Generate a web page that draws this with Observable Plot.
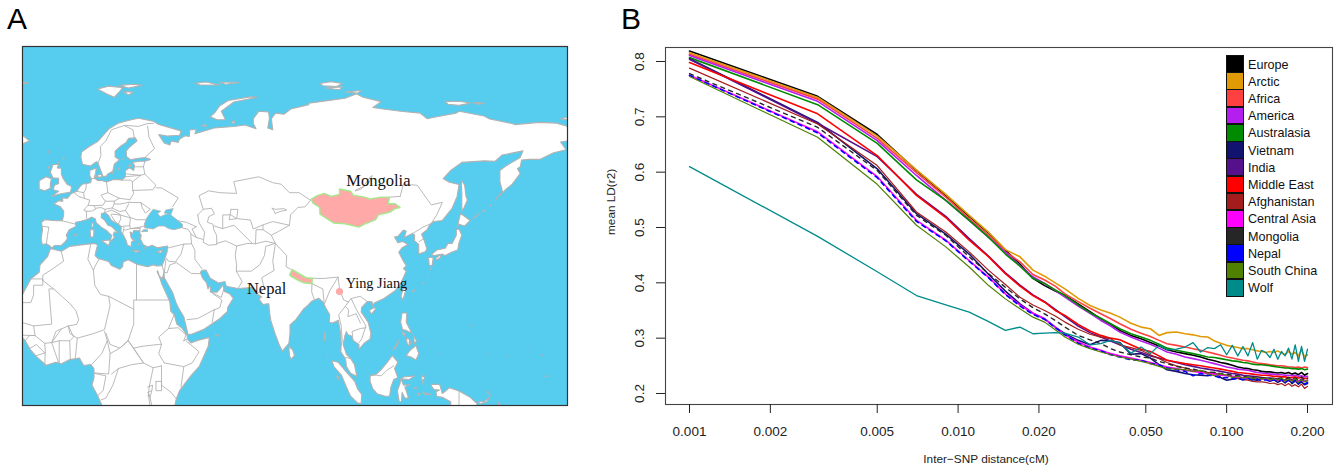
<!DOCTYPE html>
<html>
<head>
<meta charset="utf-8">
<script src="https://cdn.jsdelivr.net/npm/d3@7"></script>
<script src="https://cdn.jsdelivr.net/npm/@observablehq/plot@0.6"></script>
<style>
html,body{margin:0;padding:0;background:#fff;width:1344px;height:472px;overflow:hidden}
#page{position:relative;width:1344px;height:472px;font-family:"Liberation Sans",Arial,sans-serif}
#page>svg,#map,#ld{position:absolute;top:0}
#map{left:0}#ld{left:600px}
.tag{position:absolute;font-size:30px;line-height:30px;color:#000}
#legend{position:absolute;left:1226px;top:55px;font-size:12.6px;color:#111}
#legend div{height:17.23px;line-height:17.23px;white-space:nowrap}
#legend i{display:inline-block;box-sizing:border-box;width:18px;height:17.73px;border:1px solid #111;vertical-align:top;margin-right:4px;margin-bottom:-.5px}
#legend span{position:relative;top:1.5px}
</style>
</head>
<body>
<div id="page">
<div id="map"></div>
<div id="ld"></div>
<div class="tag" style="left:7px;top:4px">A</div>
<div class="tag" style="left:621px;top:4px">B</div>
<div id="legend"></div>
</div>
<script>
// ---------- Panel B data ----------
const distance=[.001,.003,.005,.007,.009,.011,.013,.015,.017,.019,.021,.023,.025,.028,.031,.034,.037,.04,.044,.048,.052,.056,.06,.065,.07,.075,.08,.085,.09,.095,.1,.105,.11,.115,.12,.125,.13,.135,.14,.145,.15,.155,.16,.165,.17,.175,.18,.185,.19,.195,.2];
const europe=[.819,.737,.668,.603,.558,.520,.490,.459,.434,.408,.395,.385,.377,.362,.348,.335,.325,.314,.305,.299,.292,.286,.279,.275,.272,.269,.266,.262,.259,.256,.254,.251,.248,.246,.245,.243,.242,.240,.239,.239,.238,.237,.238,.236,.238,.235,.237,.234,.238,.233,.236];
const arctic=[.816,.735,.665,.604,.560,.522,.491,.460,.447,.423,.412,.400,.389,.372,.359,.351,.345,.338,.327,.320,.317,.305,.310,.311,.308,.306,.303,.302,.295,.291,.287,.285,.283,.281,.281,.279,.277,.276,.274,.276,.274,.277,.273,.270,.276,.271,.274,.268,.279,.266,.270];
const africa=[.813,.732,.661,.599,.555,.516,.486,.456,.438,.415,.405,.394,.380,.366,.354,.344,.335,.326,.316,.309,.303,.296,.290,.287,.284,.281,.278,.275,.272,.269,.266,.264,.262,.260,.259,.257,.255,.254,.253,.252,.251,.250,.250,.249,.248,.248,.247,.248,.246,.248,.247];
const america=[.811,.728,.657,.594,.549,.513,.482,.455,.431,.411,.399,.386,.374,.358,.345,.332,.322,.311,.302,.295,.289,.282,.275,.271,.266,.263,.260,.257,.254,.251,.248,.246,.244,.243,.242,.240,.238,.237,.236,.235,.235,.234,.234,.233,.233,.232,.233,.231,.232,.230,.231];
const australasia=[.807,.722,.652,.586,.549,.513,.482,.452,.430,.408,.399,.387,.377,.360,.346,.336,.326,.317,.308,.302,.296,.289,.282,.278,.275,.272,.269,.266,.265,.263,.261,.259,.258,.256,.255,.253,.252,.252,.251,.250,.249,.248,.247,.246,.246,.245,.245,.244,.245,.243,.244];
const vietnam=[.805,.690,.606,.525,.488,.452,.415,.385,.362,.345,.335,.320,.308,.296,.288,.296,.295,.292,.271,.272,.264,.252,.243,.240,.236,.234,.233,.232,.238,.229,.224,.226,.228,.225,.227,.225,.224,.226,.227,.222,.225,.220,.224,.219,.226,.218,.223,.217,.221,.216,.218];
const india=[.804,.6885,.628,.560,.520,.480,.448,.418,.396,.378,.366,.352,.339,.322,.310,.302,.295,.288,.280,.274,.268,.264,.260,.256,.252,.249,.246,.244,.242,.240,.238,.236,.235,.233,.232,.231,.230,.229,.228,.228,.227,.226,.226,.224,.227,.225,.226,.222,.226,.222,.224];
const middleEast=[.798,.7055,.630,.558,.518,.477,.447,.4165,.394,.377,.365,.350,.341,.325,.313,.305,.300,.297,.288,.280,.276,.268,.260,.257,.254,.252,.250,.248,.246,.244,.242,.240,.238,.237,.236,.235,.234,.233,.233,.232,.231,.231,.230,.230,.229,.229,.230,.228,.229,.227,.227];
const afghanistan=[.788,.687,.612,.528,.492,.456,.4225,.397,.374,.360,.350,.340,.329,.316,.307,.302,.299,.288,.283,.278,.270,.263,.256,.250,.246,.242,.240,.238,.236,.235,.233,.230,.227,.225,.224,.222,.221,.221,.220,.218,.219,.216,.218,.214,.218,.213,.216,.212,.217,.209,.213];
const centralAsia=[.775,.673,.592,.513,.477,.440,.410,.380,.360,.345,.335,.320,.306,.293,.284,.278,.272,.268,.264,.260,.256,.252,.248,.245,.242,.240,.238,.236,.235,.233,.232,.231,.230,.229,.228,.228,.227,.226,.226,.225,.225,.224,.224,.223,.224,.223,.224,.222,.223,.222,.223];
const mongoliaLD=[.778,.681,.603,.522,.486,.447,.4165,.392,.371,.355,.344,.332,.320,.305,.297,.290,.281,.275,.270,.266,.264,.258,.254,.249,.246,.244,.241,.239,.238,.236,.235,.233,.232,.231,.230,.229,.229,.228,.228,.227,.227,.227,.228,.226,.229,.226,.228,.225,.230,.224,.228];
const nepalLD=[.775,.671,.590,.511,.476,.439,.409,.379,.358,.343,.334,.319,.306,.291,.282,.277,.270,.266,.261,.260,.254,.252,.246,.243,.240,.232,.236,.233,.232,.228,.229,.226,.227,.225,.228,.224,.226,.223,.225,.222,.225,.221,.226,.220,.224,.219,.225,.218,.223,.217,.220];
const southChina=[.773,.663,.578,.504,.465,.4285,.395,.371,.353,.338,.329,.315,.302,.289,.281,.275,.270,.266,.262,.258,.254,.249,.245,.244,.243,.240,.242,.236,.232,.236,.233,.229,.231,.228,.230,.227,.229,.226,.228,.225,.227,.224,.228,.223,.226,.222,.227,.220,.225,.221,.224];
const wolf=[.610,.484,.420,.377,.360,.347,.330,.314,.320,.308,.309,.310,.309,.302,.288,.290,.296,.291,.273,.284,.272,.287,.279,.280,.284,.292,.275,.283,.281,.288,.270,.287,.268,.285,.268,.292,.262,.278,.274,.265,.280,.262,.276,.268,.282,.262,.288,.258,.285,.258,.280];

const groups=["Europe","Arctic","Africa","America","Australasia","Vietnam","India","Middle East","Afghanistan","Central Asia","Mongolia","Nepal","South China","Wolf"];
const groupValues=[europe,arctic,africa,america,australasia,vietnam,india,middleEast,afghanistan,centralAsia,mongoliaLD,nepalLD,southChina,wolf];
const lineColors=["#000000","#E09A05","#FF4040","#B41EEF","#008B00","#12126F","#55118B","#FF0000","#A51C1C","#FF00FF","#262626","#0000FF","#4F8000","#008B8B"];
const legendColors=lineColors;
const xTicks=[.001,.002,.005,.01,.02,.05,.1,.2];
const yTicks=[.2,.3,.4,.5,.6,.7,.8];

// ---------- Panel A data: lon / lat ----------
const mainland=[[13,-8],[12.3,-6],[11,-3.8],[9,-1],[9.7,1],[9.7,3.5],[8.5,4.6],[6,4.3],[4.5,6.3],[1,5.9],[-2,4.8],[-4,5.2],[-7.5,4.4],[-11,6.7],[-13.2,8.6],[-15,11],[-16.7,12.4],[-17.5,14.7],[-16.5,16],[-16.3,19],[-17,21],[-16,23.5],[-13,27.7],[-10,29.5],[-9.7,31.5],[-7,33.7],[-6,35.8],[-5.3,35.8],[-2,35.2],[1,36.5],[5,36.9],[10,37.3],[11,36.9],[10.5,35.5],[10.1,34],[11.2,33.2],[15,32.4],[16,31.3],[19,30.3],[20,31],[20.2,32.3],[22,32.9],[25,31.7],[29,31],[31,31.5],[32.3,31.2],[34.2,31.3],[35,32.8],[36,35],[36.2,36.6],[34,36.3],[32.5,36.1],[30.6,36.8],[29,36.3],[27.4,37],[26.4,38.5],[26.7,39.5],[26.2,40],[26.2,40.7],[24,40.8],[23.8,40],[22.7,40.4],[23,39],[24,38],[23.2,37.7],[23.1,36.5],[22.4,36.6],[21.7,36.9],[21.3,38],[20.3,39.5],[19.4,40.5],[19.5,41.8],[18.5,42.5],[16,43.5],[14.8,45],[13.6,45.6],[12.4,45.4],[12.3,44.3],[13.6,43.5],[14.7,42.2],[16,41.9],[18.4,40.1],[17,40.4],[16.6,39.5],[17.1,39],[16,38],[15.7,38],[16,39.5],[15,40.2],[14.2,40.8],[12.3,41.7],[10.5,42.9],[10.2,43.9],[8.8,44.4],[7.5,43.8],[5,43.3],[3.1,43],[3.2,41.9],[0.8,41],[-0.3,39.5],[0.2,38.7],[-0.7,37.7],[-2,36.8],[-4.5,36.7],[-5.5,36.05],[-6.3,36.7],[-7.4,37.2],[-8.9,37],[-9.3,38.6],[-8.8,41],[-9.2,43],[-8,43.7],[-3.8,43.4],[-1.7,43.4],[-1.2,45],[-1.2,46],[-2.5,47.3],[-4.7,48],[-3,48.8],[-1.5,48.7],[-1.7,49.6],[0.2,49.5],[1.6,50.8],[3.5,51.4],[4.5,52.5],[5.5,53.3],[7,53.5],[8.5,53.7],[8.8,54.6],[8.2,55.6],[8.2,57],[10.5,57.7],[10.3,56.2],[9.8,55],[11,54.3],[12.5,54.3],[14.2,53.9],[16.5,54.5],[18.5,54.6],[19.7,54.4],[21,55.3],[21,57],[22.5,57.7],[24,57],[24.3,58.3],[23.5,59.2],[26,59.5],[28,59.5],[30,60],[28,60.5],[25,60.2],[22.8,59.9],[21.4,60.8],[21.3,62.3],[22.5,63.3],[25.2,65],[24.6,65.8],[22.2,65.7],[21.3,64.6],[19,63.4],[17.3,62.2],[17.3,60.7],[18.9,59.9],[17,58.7],[16.5,56.8],[14.5,56],[14.2,55.4],[12.9,55.4],[12.4,56.5],[11.2,58.9],[10.6,59.4],[8.5,58.2],[5.6,58.7],[5,60.5],[5.2,62],[8,63.5],[11,64.8],[13,66.5],[15,68.2],[18.5,69.8],[22,70.5],[25.7,71.1],[31,70.3],[33,69.4],[41,67.7],[40.5,66.5],[36,66.3],[33,66.7],[35,64.4],[37,63.9],[37.5,65],[40,64.6],[40.5,65.5],[42.5,66.4],[44,66.2],[44.2,68],[46.5,68],[46,66.9],[53,68.5],[60,68.9],[64,69.3],[68,68.3],[67,69.7],[67,71],[69,73],[72.5,72.8],[72.8,71],[72.2,68.5],[74,68],[73.5,71],[75,72.5],[78,72.2],[80.5,73.6],[87,74.8],[87,75.2],[95,76],[100,76.5],[104,77.7],[106.5,76.8],[113,75.6],[110,74],[113,73.7],[120,73],[127,72.5],[129.5,71],[133,71.5],[140,72.5],[141,73],[150,71.7],[152,70.9],[160,69.7],[161,69.4],[170,70],[176,69.8],[180,68.9],[190,66.5],[190,64.5],[180,65],[177.5,64.7],[179.5,62.6],[175,61.8],[170,60],[166,60],[163.5,59.8],[163,58],[162,57.5],[163,56.2],[160,53.2],[158,52],[156.7,51],[155.7,54],[155.7,57],[158,58.3],[163,60.5],[164,62.3],[160,61.7],[156.5,61.2],[154,59.5],[150,59.6],[142,59.2],[138,57],[135.3,54.8],[137.5,53.8],[141,53.2],[140.3,50],[138.5,46.8],[135,43.5],[132,43.2],[130.5,42.4],[129.5,41],[127.5,39.8],[128.5,38],[129.4,36],[129,35.1],[126.5,34.4],[126.5,37],[125,38],[125,39.6],[124.3,40],[121.3,38.9],[122,40.6],[121,40.9],[119,39.2],[117.8,39],[119,37.5],[120.8,37.8],[122.6,37],[120.5,36.1],[119.3,34.9],[121,32.5],[122,31.3],[121,30.5],[122,29.8],[120,26.5],[118,24.5],[114,22.4],[110.5,21.2],[110,20.3],[109.7,21.5],[108,21.6],[106,20],[105.8,18.8],[108.3,16],[109.3,13],[109,11.5],[107,10.4],[105,8.7],[105,10],[103,11],[102.5,12.2],[100.9,12.7],[100.5,13.5],[100,12.5],[99.3,10],[100.5,7.3],[102,6.2],[103.4,4.5],[104.2,1.4],[102,2.2],[100.5,4],[100.2,6],[98.5,8],[98.6,10],[98.5,12.5],[97.6,16.5],[95.5,15.8],[94.3,16],[94.5,18],[93,20],[92,21.5],[90.5,22.5],[88,21.7],[86.8,20.7],[85,19.5],[82.3,16.7],[80.2,15.3],[80.2,13],[79.8,10.3],[78.2,8.9],[77.5,8.1],[76.3,10],[74.8,13],[73.3,16.5],[72.8,19],[72.6,21],[72,21],[70.5,20.8],[69,22.3],[70,22.8],[68.3,23.7],[67,24.8],[66.5,25.4],[61.5,25.1],[57.3,25.7],[56.8,27],[54.5,26.6],[51.5,27.9],[50,30.1],[48.5,30],[48,29.5],[48.7,28],[50.2,26.6],[50.7,25],[51.3,26.1],[51.6,25],[51.5,24.2],[54,24.1],[56.2,26.1],[56.5,24.4],[58.6,23.6],[59.8,22.5],[57.8,20],[57.7,18.9],[55,17],[52.2,15.6],[49,14],[45,12.8],[43.5,12.7],[42.8,15],[42,17.5],[40,20],[39.1,21.5],[38,24],[36.5,26],[35,28],[34.9,29.5],[34.3,27.8],[33.2,28.5],[32.6,29.9],[32.4,29.7],[33.5,27.8],[34,26.5],[35.5,24],[37,21.5],[37.3,19],[38.6,18],[39.5,15.5],[41.2,14.5],[43.2,12.5],[43.3,11.5],[44.5,10.4],[47,11.1],[51.2,11.9],[50.8,9.5],[49,6.5],[47.5,4],[44.5,1.5],[42,-1],[40.5,-2.5],[39.3,-4.7],[38.8,-6.5],[39.5,-8]];
const islands=[
[[-5.5,50],[-3,50.6],[1.3,51.2],[1.7,52.7],[0,53.3],[-1.5,55],[-2,56],[-2,57.6],[-3.5,57.7],[-3,58.6],[-5,58.6],[-6,56.5],[-5,55],[-3,54.9],[-3,53.5],[-4.5,53],[-5,51.8],[-3,51.4]],
[[-6,52.2],[-6,53.5],[-5.6,54.8],[-7.5,55.3],[-10,54.2],[-10,52],[-8,51.5]],
[[-24,65],[-22,66.4],[-16,66.5],[-13.5,65],[-18,63.5],[-22,63.9]],
[[11,79],[15,79.8],[20,79.4],[19,78.4],[17,76.8],[14,77.8]],[[19,80],[24,80.3],[27,80],[22,79.3]],[[20.5,78.3],[24,78.2],[22,77.4]],
[[46,80.6],[50,80.9],[55,80.1],[48,80.1]],[[55,80.9],[62,80.8],[57,80.3]],[[-14,80.6],[-16,80.9],[-16,80.4]],
[[51.5,71.5],[54,70.7],[57,70.7],[55.5,73],[60,75.5],[68.5,76.8],[66,76.9],[58,75.9],[55,74.5],[53,72.5]],
[[48.5,69],[49.5,69.5],[50.3,69]],[[59,70],[60.5,70.5],[60,69.7]],
[[91,80.5],[95,81],[99,80.5],[97,79.7],[92,79.9]],[[93,79.3],[99,79.6],[98,78.8]],[[100,78.2],[106,78.6],[104.5,77.9]],
[[136,75.6],[140,75.7],[143,75.5],[145,75.2],[141,74.6],[137,74.9]],[[146,75.4],[150,75.2],[148,74.9]],
[[177.5,71],[180,71.4],[182,71],[179,70.8]],
[[142,54.3],[143,53],[143.5,50],[144,49],[142.8,47],[142,46],[142,48],[142,51],[141.8,53.5]],
[[140.3,41.5],[141.5,45.4],[145,43.5],[143,42],[141,42.5]],
[[141,41.2],[142,39.5],[141,37.5],[140.5,35.5],[138.5,35],[136,34],[135,34.4],[132,34],[131,34.3],[133,35.5],[136,36],[137,37.3],[138.5,37.3],[140,39.5],[140,41]],
[[130,33.5],[131.7,33.5],[131.3,31.3],[130.3,31.3]],[[132.5,33.2],[134.5,34.3],[134.3,33.5],[133,32.8]],
[[121,25.2],[122,25],[120.8,22],[120.1,23]],[[108.7,19.2],[110.5,20],[111,19.6],[109.5,18.2]],[[79.8,9.5],[81.2,8.5],[81.8,7],[80.6,6],[80,7]],
[[120.5,18.5],[122.2,18.5],[122,16],[124,13],[122,13.8],[120.7,14],[120,16]],
[[120.5,13.3],[121.5,13],[121.3,12.2]],[[124.5,12.5],[125.7,11],[125,10.2]],[[122,11.7],[123.2,11.4],[123,9.6],[122.4,10]],[[123.5,11],[124,10.4],[123.5,10]],[[117.2,8.5],[119.5,11.2],[118.5,9.5]],
[[122,7],[123.5,8.5],[125.5,9.7],[126.5,7.5],[125.5,5.8],[124,6.5]],
[[109,1.5],[111,1.8],[113,3.2],[115,5],[117,7],[119,5.2],[117.8,3.5],[119,1],[117.5,0.5],[116.5,-1.5],[116,-4],[114.5,-4],[111.5,-3.3],[110,-2],[109,0]],
[[95.3,5.6],[97.5,5.2],[100.5,2.5],[103.5,0],[104.5,-2],[106,-3.5],[105.8,-6],[104.5,-5.8],[102,-4],[100.5,-1.5],[98.7,1.7],[96,4]],
[[119.5,-5.5],[120.3,-5.5],[120.5,-3],[121.5,-4.5],[122.8,-4.5],[122,-2.5],[121.5,-1.5],[123.3,-0.9],[121,-1],[120.2,0.5],[121,1.2],[125,1.5],[123,0.5],[120,0.7],[119.8,-0.5],[118.8,-2.5]],
[[105.5,-6.8],[108.5,-6.6],[110.8,-6.5],[112.6,-6.9],[114.5,-7.8],[105.5,-8]],
[[131,-0.8],[134,-0.8],[135,-3.3],[137.5,-1.7],[141,-2.6],[145,-4.3],[147.5,-6],[147,-7],[141,-9],[138,-8],[138,-5.5],[135,-4.3],[133,-4],[132.7,-2.8],[134,-2.3],[132,-2.2],[131,-1.2]],
[[127.5,1.8],[128.7,1],[128,0.3],[128.3,-0.8],[127.7,0]],[[128,-3],[130.8,-3.5],[129,-3.5]],[[126,-3.2],[127,-3.3],[126.5,-3.8]],[[124.8,-1.7],[126,-1.8],[125.5,-2]],
[[148,-5.5],[150,-5.5],[152,-4.2],[151,-5.5],[148.5,-6.1]],[[150.8,-2.7],[152.5,-3.8],[152,-3.5]],
[[92.8,13.5],[93,12],[92.6,11],[92.5,12]],[[97,1.5],[97.9,1],[97.5,0.5]],[[93.7,7.2],[93.9,7],[93.7,6.8]],
[[146,44],[148,45.3],[147,44.5]],[[149.5,46],[150.5,46.3],[150,46]],[[152,47.5],[152.5,47.8],[152.2,47.4]],[[154,49],[155,50],[154.5,49.4]],[[155.3,50.3],[156,50.8],[155.8,50.2]],
[[128,26.7],[128.3,26.8],[128,26.4]],[[129.5,28.3],[129.7,28.4],[129.5,28.1]],[[124,24.5],[125,24.7],[124.5,24.3]],[[131,30.6],[131,30.3],[130.7,30.3]],
[[2.5,39.6],[3.4,39.8],[3.1,39.3]],[[9,42.9],[9.5,42.8],[9.5,41.7],[8.7,41.7]],[[8.3,41],[9.7,41],[9.6,39.1],[8.5,39]],[[12.5,38],[15.6,38.2],[15,36.7]],[[23.6,35.5],[26.3,35.2],[24.7,34.9]],[[32.3,35],[34.5,35.6],[33.8,34.7]],
[[25.5,37.3],[26,37.1],[25.5,37]],[[26.2,39.2],[26.6,39],[26,38.9]],[[27.8,36.2],[28.2,36.1],[27.8,35.9]],[[24,38.3],[24.5,38],[23.2,38.8]],[[53.3,12.6],[54.5,12.5],[53.8,12.3]],
[[18.2,57.2],[19,57.9],[18.8,57.3]],[[16.4,56.2],[17,57.3],[16.5,56.9]],[[11,55.8],[12.6,56],[12.4,55.2],[11.2,55.2]],[[9.8,55.4],[10.7,55.5],[10.4,55]],[[22,58.3],[23,58.6],[23,58.1]],[[-7,62],[-6.6,62.3],[-6.5,61.8]],[[-7,57.6],[-6.2,58.4],[-6.4,57.7]],[[-3,59],[-2.9,59.3],[-3.2,59.1]],[[-1.3,60],[-1,60.6],[-1.4,60.5]],[[19.9,60.1],[20.4,60.3],[20.3,60]],
[[145.7,15.2],[145.8,15.1],[145.7,15]],[[144.7,13.5],[144.8,13.4],[144.7,13.3]],[[134.6,7.6],[134.6,7.4],[134.5,7.4]],[[151.8,7.4],[151.9,7.3],[151.8,7.2]],[[158.2,6.9],[158.3,6.8],[158.2,6.8]],[[172,1.4],[173,1.5],[172.5,1.3]],[[171,7.1],[171.3,7],[171,7]],[[167.7,8.9],[167.8,8.7],[167.6,8.7]],[[156,-6.5],[155.6,-6.7],[155,-5.6]]
];
const lakes=[
[[47,45],[49,46.5],[52,46.8],[53,45.3],[51,44.5],[50.5,43],[52.5,42.5],[52.8,41],[53.8,39.5],[53.9,37],[51,36.8],[49,37.6],[49.5,40.3],[47.5,42.9]],
[[59,46.5],[61.5,46.5],[61,44],[58.3,43.7]],
[[73.8,46.8],[75,46.5],[78,46.7],[79,46.3],[77,46],[74.8,45.4],[74.5,46]],
[[103.7,51.5],[105.5,51.9],[108.5,53.6],[109.8,55.6],[109.2,55.4],[106.5,52.6],[104,51.8]],
[[32,0],[34,0],[34,-2.5],[32,-2.5]],[[29.3,-3.5],[29.6,-3.5],[30.5,-6.5],[29.8,-6.5]]
];
const blackSea=[[28,41.5],[31,41.2],[33,42],[35,42],[36.5,41.3],[38.5,41],[41.5,41.6],[41.5,42.5],[39,44],[37.3,45],[38.2,46.7],[35.5,46.3],[35,45.5],[36.5,45.3],[35,45],[33.5,44.5],[32.6,45.4],[33.7,46],[31,46.5],[29.7,45.3],[28.6,44],[27.8,42.5]];
const marmara=[[26.9,40.5],[29,40.5],[29,41],[27.5,41]];
const borders=[
[[-1.7,43.4],[3.1,42.5]],[[-8.8,41.9],[-6.5,41.7],[-7,39.5],[-7.4,37.2]],
[[2.5,51],[4.2,50],[6,49.5],[8.2,49],[7.6,47.6],[6,46.3],[7,45.9],[7,44.2],[7.5,43.8]],[[3.4,51.4],[6,51]],[[7,53.4],[6.8,52],[6,51],[6.2,49.6]],[[8.7,54.9],[9.9,54.8]],
[[14.2,53.9],[14.7,51],[12.2,50.3],[13.8,48.7],[12.9,47.6],[9.6,47.5],[7.6,47.6]],[[6.9,46],[8.8,46],[10.4,46.6],[9.6,47.5]],[[10.4,46.8],[12.2,47],[13.7,46.5],[13.6,45.6]],
[[14.7,51],[18.8,49.5],[22.6,49.1]],[[13.8,48.7],[17,48.7],[18.8,49.5]],[[17,48.7],[17,48],[16.3,46.9],[13.7,46.5]],[[17,48],[19,47.9],[22.2,48.4]],[[22.6,49.1],[24,50.8],[23.6,52],[23.5,53.9],[23,54.4],[19.7,54.4]],
[[21,55.3],[26.5,55.7],[28,56],[27.5,58],[24.3,58]],[[21,56.1],[26.5,55.7]],[[27.5,58],[28,59.5]],[[23.6,51.6],[30.8,51.8],[32,53],[28,56]],[[26.5,55.7],[23.5,53.9]],[[32,52.3],[34,52.3],[40,49.6],[38,47.2]],
[[26.6,48.3],[30,46.5],[28.2,45.5],[27,47],[26.6,48.3]],[[22.2,48.4],[26.6,48.3]],[[21,46.2],[22.8,44.3],[25,43.7],[28.5,43.7]],[[16.3,46.8],[19,45.9],[21,46.2],[22.2,48]],[[13.6,45.6],[16,46.3],[19,45.2],[19.4,44],[18.5,42.5]],[[16,45.2],[19,45]],[[15.8,45],[17.5,43],[18.5,42.5]],[[19,45],[22.8,44.2],[22.5,42],[20.5,42],[19.5,41.8]],[[20.5,41.7],[20,39.7]],[[22.5,42.2],[22.9,41.3],[26.3,41.3],[26.2,40.7]],[[26.3,41.7],[28,42]],[[26.3,41.3],[26.3,41.7],[22.9,41.3]],[[20.5,41],[21,40.9],[22.9,41.3]],
[[11.2,59],[12.2,61],[12,63.5],[14,65],[16,68],[20,69],[21,69.2],[25.7,68.9],[29,69.7],[31,69.7]],[[24.2,65.8],[23.7,68],[20.7,69.1]],[[28,60.5],[31.5,62.9],[29.5,66],[29,69]],
[[36,36],[42,37.1],[44.8,37.2],[44.5,39.7]],[[41.5,41.5],[43.5,41.1],[44.8,39.7]],[[40,43.4],[43,43],[46.5,41.8]],[[46.5,41.8],[45,41.2],[46.5,38.9],[48.8,38.4]],[[44.8,39.7],[46.5,38.9]],[[44.8,37.2],[46,35.5],[46,33],[48.5,30.5]],[[42,37.1],[41,34.4],[39,32.3],[36.5,32.5],[35.7,33.3]],[[39,32.3],[44.7,29.2],[48,29.1]],[[39,32],[37,31.5],[36,29.3],[35,29.5]],[[34.2,31.3],[34.9,29.5]],[[35.6,33],[35,29.5]],[[43.2,16.7],[47,17],[52,19],[55,20],[55.7,22],[52,24]],[[52.2,16],[53,19.5]],[[52,24.1],[55.5,22.7],[56.4,24.9]],
[[53.9,37.3],[57,38],[61,36.6],[60.5,34],[61,31.5],[60.9,29.8],[63,27],[61.6,25.2]],[[60.9,29.8],[66.3,29.8],[69.3,31.5],[71,34],[71.5,36.5],[74.9,37.3]],[[61,36.6],[65,37.3],[67.8,37.2],[71.5,37.9],[74.9,37.3]],
[[49,46.5],[47.5,50.2],[51,51.5],[55,51],[61,50.8],[60,54],[69,55.3],[74,53.7],[77,53.3],[80,51],[83.5,51],[87.3,49.1]],[[53,42],[56,41.3],[56,45],[59,45],[61,44],[66,43.6],[67,41.2],[70.5,42.3],[74,43.2],[80,42.2],[80.4,45],[83,47],[85.7,47.2],[87.8,49.2]],[[56,41.3],[60,42.2],[61,41.5],[66.5,37.4]],[[67.8,37.2],[68,41],[70.5,41],[73.5,39.5],[74.9,37.3]],[[80,42.2],[76,40.5],[73.5,39.5]],[[70.5,41],[70.5,42.3]],
[[74.9,37.3],[79,34],[78.8,31],[80.5,30.3]],[[88.2,27.9],[92,27.8],[97.5,28.2],[98,25],[99.5,22],[101.2,21.5]],[[97.5,28.2],[94.5,24.5],[92.6,21]],[[88.1,26.4],[88,24.2],[89,22]],[[88.1,26.4],[92,25],[92.5,21]],[[74.9,37],[74,32.5],[74.5,30],[70,28],[71,25],[68.3,23.7]],
[[101.2,21.5],[102.2,22.4],[105.4,23],[108,21.6]],[[101.2,21.5],[100.1,20.3],[101.3,19.3],[101,17.5],[104,18.3],[105.5,15.8]],[[102.2,22.4],[104,19.5],[107.5,15],[106,11.5],[105,10.5]],[[102.8,12.2],[102.5,13.5],[105.5,14.3],[107.5,14.5]],[[100.1,20.3],[97.7,18],[98.6,15],[99,11],[98.7,10]],[[100.2,6.5],[102,6.2]],[[109.6,1.9],[113,1.5],[115,3],[117.5,4.2]],[[141,-2.6],[141,-9]],
[[119.8,50],[121,53.3],[126,53],[131,47.7],[135,48.4],[133,45],[131,42.7],[130.5,42.4]],[[116,49.8],[119.8,50]],[[124.4,40],[128,41.7],[130.5,42.5]],[[126.7,37.8],[128.4,38.6]],
[[-2,35],[-1.2,32.5],[-5,30.5],[-8.7,28.7],[-8.7,27.3]],[[-13,27.7],[-8.7,27.7],[-8.7,26],[-12,26],[-12,23.4],[-13,21.3],[-17,21.3]],[[-8.7,27.3],[-4.8,25],[-6.5,25],[-5.5,15.5],[-12,15],[-16.5,16]],[[-4.8,25],[1.1,21],[3.3,19],[4.2,16.7],[3.5,15.4],[0.5,15],[-2,14.2],[-5.5,10.5],[-8,10.3],[-11.5,12.4],[-12,15]],
[[8.5,37],[7.5,33],[9.5,30],[10,26],[12,23.5],[15,23],[15.5,20.5],[13.5,14],[9,12.8],[3.7,11.7],[1,13],[0.5,15]],[[11.5,33],[10,31],[9.5,30]],[[15,23],[24,19.5],[24,22],[25,22],[25,31.7]],[[25,22],[37,22]],[[24,19.5],[24,15.5],[22,11],[19,9],[15.5,10],[14,13]],
[[3,6.3],[3.7,11.7]],[[13.5,13.5],[14.5,11],[12.5,7.5],[9,4.7]],[[14.5,11],[15.5,7.5],[15,2],[9.8,2.3]],[[15.5,7.5],[19,9],[22,11],[27.5,5],[23,4.5],[18.5,3.5],[16,2]],[[18.5,3.5],[16.5,-1],[14,-4.5],[12.2,-5]],[[9.8,2.2],[14,1.5],[13,-2.5],[11,-3.8]],
[[24,9],[27,9.5],[33,10],[34,10],[33,7.5],[35,5]],[[22,11],[24,9],[27.5,5]],[[36.5,14.3],[33,12],[34,10]],[[36.5,14.3],[38.5,18]],[[36.5,14.3],[40,14.5],[42.8,12.6]],[[42.8,11],[47.5,8],[45,5],[42,4]],[[35,5],[42,4],[41,-1.5]],[[34,4.2],[34,1],[34,-1]],[[34,-1],[37.5,-3],[39.3,-4.7]],[[27.5,5],[31,3.7],[29.6,-1.4]],[[31,3.7],[34,4.2]],[[29,-1.5],[30.8,-1],[30.5,-2.5],[29,-3]],[[42,11],[43.2,11.5]],[[42,11],[42.8,12.6]],[[29.6,-1.4],[29.2,-4]],[[30.5,-2.5],[29.8,-4.5]],
[[-2.8,5],[-2.8,11],[1,11],[1.2,6]],[[-8,4.4],[-7.8,8],[-8,10.3]],[[-5.5,10.5],[-3,5]],[[-2.8,11],[-5.5,10.5],[-4,13.5],[-2,14.2]],[[0.5,15],[2.4,12],[1,11]],[[-15,11],[-13.5,12.4],[-11.5,12.4]],[[-13.2,9],[-11,10],[-8,7.7]],[[-11.3,6.9],[-8,7.7]],[[-16.7,12.5],[-11.5,12.4]]
];
const mongoliaShape=[[87.8,49.2],[90,50.2],[92.5,50.8],[95,50],[98,50.5],[98,52],[102,51.4],[103,50.3],[107,49.8],[109,49.3],[113,49.8],[116,49.8],[115.5,48],[118,48],[119.8,47],[118,46.7],[116,45.7],[112,45],[111,43.7],[107,42.5],[105,41.7],[100,42.6],[96,42.8],[91,45.2],[90.9,47],[88.5,48.2]];
const nepalShape=[[80.1,28.8],[81,30.2],[83,29.3],[86,28],[88.2,27.9],[88.1,26.4],[85,26.7],[83,27.4],[81,28.2]];
const yingJiang=[{lon:98,lat:24.3}];
const placeLabels=[
 {name:"Mongolia",lon:112,lat:54.2,size:16.5},
 {name:"Nepal",lon:71.8,lat:25.1,size:16.5},
 {name:"Ying Jiang",lon:111.3,lat:26.5,size:14.3}
];

const flat=(rings)=>rings.flatMap((r,i)=>r.concat([r[0]]).map(p=>({lon:p[0],lat:p[1],id:i})));
const open=(paths)=>paths.flatMap((r,i)=>r.map(p=>({lon:p[0],lat:p[1],id:i})));
const GRAY="#b2b2b2";
const shape=(rings,fill,stroke,sw)=>Plot.line(flat(rings),{x:"lon",y:"lat",z:"id",fill,stroke,strokeWidth:sw,strokeLinejoin:"round",clip:true});

const map=Plot.plot({
  width:568,height:406,marginLeft:22,marginRight:1,marginTop:46,marginBottom:1,
  style:{background:"transparent",overflow:"visible"},
  x:{domain:[-16,180],axis:null},y:{domain:[-6.5,90.5],axis:null},
  marks:[
    Plot.frame({fill:"#56CDEF",stroke:"none"}),
    shape([mainland],"white",GRAY,1.1),
    shape(islands,"white",GRAY,1.1),
    shape(lakes,"white",GRAY,.9),
    shape([blackSea,marmara],"#56CDEF",GRAY,.8),
    Plot.line(open(borders),{x:"lon",y:"lat",z:"id",stroke:GRAY,strokeWidth:.9,clip:true}),
    shape([mongoliaShape],"#FFA9A9","#A4E98C",1.4),
    shape([nepalShape],"#FFA9A9","#A4E98C",1.6),
    Plot.dot(yingJiang,{x:"lon",y:"lat",r:3.6,fill:"#FFA9A9",stroke:"none"}),
    Plot.text(placeLabels,{x:"lon",y:"lat",text:"name",fontSize:"size",fontFamily:"Liberation Serif",fill:"#111"}),
    Plot.frame({stroke:"#333",strokeWidth:1.2})
  ]
});
document.getElementById("map").append(map);

const rows=groups.flatMap((g,i)=>distance.map((d,j)=>({group:g,order:i,d,v:groupValues[i][j]})));
const lineWidth={"Afghanistan":1.2,"South China":1.2,"Wolf":1.3,"Mongolia":1.4,"Nepal":1.6};
const dashed={"Mongolia":"4,4.5","Nepal":"4,4.5"};

const ld=Plot.plot({
  width:744,height:472,marginLeft:65,marginRight:12,marginTop:47,marginBottom:68,
  style:{background:"transparent",overflow:"visible",fontFamily:"Liberation Sans"},
  x:{type:"log",domain:[.000814,.2478],axis:null},
  y:{domain:[.1801,.8253],axis:null},
  marks:[
    ...groups.map((g,i)=>Plot.line(rows.filter(r=>r.order===i),{x:"d",y:"v",stroke:lineColors[i],strokeWidth:lineWidth[g]||1.6,strokeDasharray:dashed[g]||null,strokeLinejoin:"round"})),
    Plot.frame({stroke:"#444",strokeWidth:1.1}),
    Plot.tickX(xTicks,{x:d=>d,frameAnchor:"bottom",y:null,y1:null,y2:null,stroke:"none"}),
    Plot.axisX({ticks:xTicks,tickSize:9,text:null,label:null,stroke:"#222"}),
    Plot.text(xTicks,{x:d=>d,text:d3.format(".3f"),frameAnchor:"bottom",dy:27,lineAnchor:"middle",fontSize:13.5,fill:"#222"}),
    Plot.axisY({ticks:yTicks,tickFormat:d3.format(".1f"),tickSize:9,tickPadding:13,fontSize:13.5,tickRotate:-90,label:null,textAnchor:"middle",stroke:"#222",fill:"#222"}),
    Plot.text(["Inter\u2212SNP distance(cM)"],{frameAnchor:"bottom",dx:-13,dy:55,fontSize:11.8,fill:"#222",lineAnchor:"middle"}),
    Plot.text(["mean LD(r2)"],{frameAnchor:"left",dx:-54,dy:9,rotate:-90,fontSize:11.8,fill:"#222"})
  ]
});
document.getElementById("ld").append(ld);

const legend=document.getElementById("legend");
groups.forEach((g,i)=>{
  const row=document.createElement("div");
  const sw=document.createElement("i");
  sw.style.background=legendColors[i];
  const label=document.createElement("span");
  label.textContent=g;
  row.append(sw,label);
  legend.append(row);
});
</script>
</body>
</html>
